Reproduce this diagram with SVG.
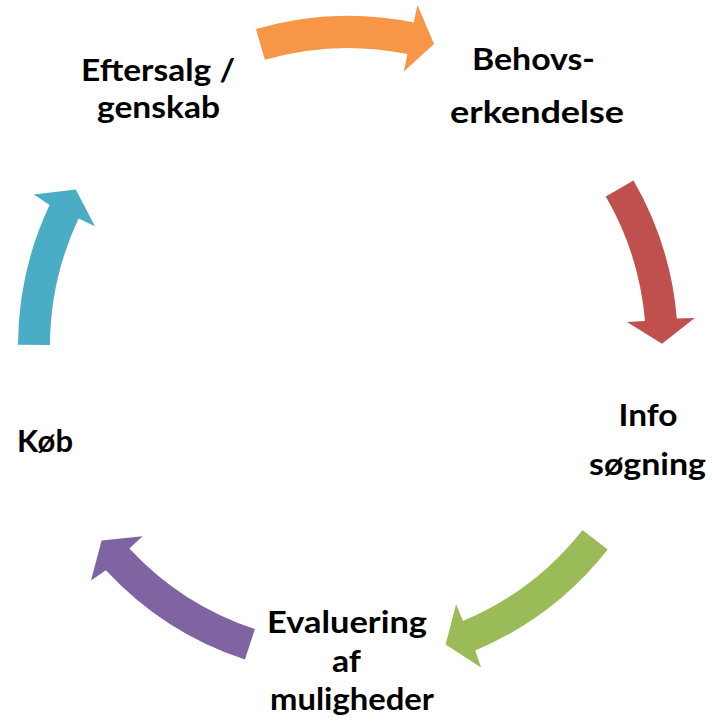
<svg xmlns="http://www.w3.org/2000/svg" width="712" height="723" viewBox="0 0 712 723">
  <style>
    .lbl { font-family: Lato, "Open Sans", "Liberation Sans", sans-serif; font-weight: 700; font-size: 30.5px; fill: #000; text-anchor: middle; }
  </style>
  <rect width="712" height="723" fill="#ffffff"/>

  <!-- curved arrows around the cycle, centre (348,346) -->
  <g id="connectors">
    <path id="arrow-top" fill="#F79646" d="M255.9,29.1 A330,330 0 0 1 413.8,22.6 L417.4,5.0 L434.0,44.0 L403.8,71.6 L407.4,54.0 A298,298 0 0 0 264.9,59.8 Z"/>
    <path id="arrow-right" fill="#C0504D" d="M633.5,180.5 A330,330 0 0 1 676.8,318.4 L694.8,318.0 L662.0,343.8 L627.0,322.0 L645.0,321.1 A298,298 0 0 0 605.8,196.6 Z"/>
    <path id="arrow-bottom-right" fill="#9BBB59" d="M607.7,549.6 A330,330 0 0 1 475.3,650.4 L481.0,667.5 L445.6,644.5 L456.1,604.3 L463.0,620.9 A298,298 0 0 0 582.5,529.9 Z"/>
    <path id="arrow-bottom-left" fill="#8064A2" d="M244.9,659.5 A330,330 0 0 1 105.9,570.2 L91.0,580.5 L101.6,540.6 L142.6,536.2 L129.4,548.5 A298,298 0 0 0 254.9,629.1 Z"/>
    <path id="arrow-left" fill="#4BACC6" d="M18.0,344.8 A330,330 0 0 1 49.6,205.0 L33.8,194.5 L75.8,189.5 L94.9,226.3 L78.6,218.6 A298,298 0 0 0 50.0,345.0 Z"/>
  </g>

  <g id="node-behovserkendelse">
    <text class="lbl" x="533.5" y="70" textLength="123" lengthAdjust="spacingAndGlyphs">Behovs-</text>
    <text class="lbl" x="537" y="123" textLength="174" lengthAdjust="spacingAndGlyphs">erkendelse</text>
  </g>
  <g id="node-infosoegning">
    <text class="lbl" x="648" y="426" textLength="59" lengthAdjust="spacingAndGlyphs">Info</text>
    <text class="lbl" x="647.5" y="475" textLength="117" lengthAdjust="spacingAndGlyphs">søgning</text>
  </g>
  <g id="node-evaluering">
    <text class="lbl" x="347" y="633" textLength="160" lengthAdjust="spacingAndGlyphs">Evaluering</text>
    <text class="lbl" x="346.5" y="672" textLength="29" lengthAdjust="spacingAndGlyphs">af</text>
    <text class="lbl" x="352" y="710" textLength="164" lengthAdjust="spacingAndGlyphs">muligheder</text>
  </g>
  <g id="node-koeb">
    <text class="lbl" x="45" y="452" textLength="56" lengthAdjust="spacingAndGlyphs">Køb</text>
  </g>
  <g id="node-eftersalg">
    <text class="lbl" x="158" y="81" textLength="154" lengthAdjust="spacingAndGlyphs">Eftersalg /</text>
    <text class="lbl" x="158.5" y="118" textLength="123" lengthAdjust="spacingAndGlyphs">genskab</text>
  </g>
</svg>
